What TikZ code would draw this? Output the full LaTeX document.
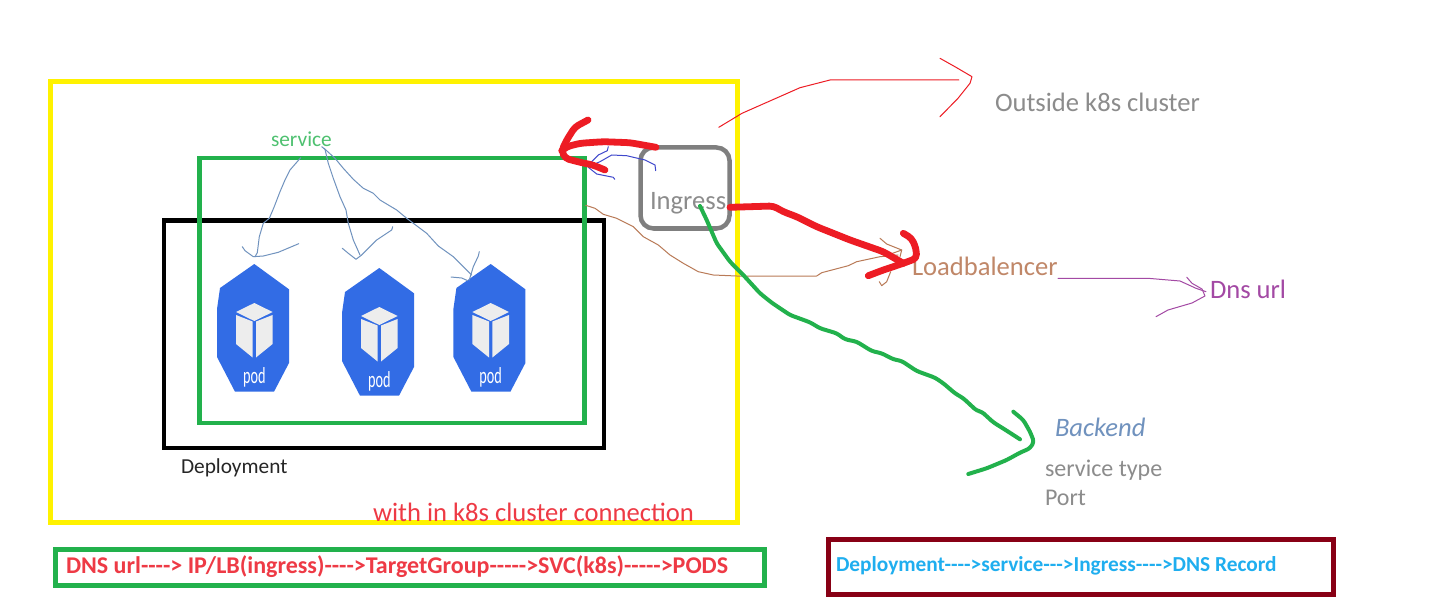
\documentclass[tikz,border=0pt]{standalone}
\usepackage{fontspec}
\usepackage{graphicx}
\setmainfont{Carlito}
\definecolor{myyellow}{HTML}{FFF200}
\definecolor{mygreen}{HTML}{22B14C}
\definecolor{mygray}{HTML}{7F7F7F}
\definecolor{txtgray}{HTML}{8C8C8C}
\definecolor{myred}{HTML}{ED1C24}
\definecolor{txtred}{HTML}{EE3A45}
\definecolor{mybrown}{HTML}{B97A57}
\definecolor{mypurple}{HTML}{A349A4}
\definecolor{mymaroon}{HTML}{880015}
\definecolor{mysky}{HTML}{1FAEEF}
\definecolor{svcblue}{HTML}{7092BE}
\definecolor{ingblue}{HTML}{3F48CC}
\definecolor{podblue}{HTML}{326CE5}
\definecolor{cubegray}{HTML}{EDEDED}
\tikzset{
  rectbox/.style={draw,anchor=north west,inner sep=0pt,outer sep=0pt},
  lab/.style={inner sep=0pt,outer sep=0pt,anchor=base west},
  fs big/.style={font=\fontsize{13.3}{16}\selectfont},
  fs mid/.style={font=\fontsize{12}{14}\selectfont},
  fs small/.style={font=\fontsize{10.67}{13}\selectfont},
  fs bold/.style={font=\fontsize{10.67}{13}\selectfont\bfseries},
  fs boldbig/.style={font=\fontsize{12}{14}\selectfont\bfseries},
  hand/.style={line cap=round,line join=round},
  thinline/.style={hand,line width=0.5pt},
  redthick/.style={hand,draw=myred,line width=3.4pt,rounded corners=2pt},
  greenthick/.style={hand,draw=mygreen,line width=2pt,rounded corners=1.5pt},
}
\newcommand{\podat}[4]{%
  \begin{scope}[shift={(#1,#2)}]
    \fill[podblue] (0,0) -- (34.7,25.3) -- (34.7,99) -- (19.7,127.7) -- (-19.3,127.7) -- (-37.3,93) -- (-37.3,45) -- (-34.3,24) -- cycle;
    \fill[cubegray] (0,39) -- (18.3,48) -- (0,57) -- (-18.3,48) -- cycle;
    \fill[cubegray] (-18.3,51) -- (-1.7,57.5) -- (-1.7,93.5) -- (-18.3,80) -- cycle;
    \fill[cubegray] (1.7,57.5) -- (18.3,51) -- (18.3,80) -- (1.7,93.5) -- cycle;
    \node[inner sep=0pt,text=white,font=\fontsize{11.5}{13}\selectfont] (#3) at (0,113) {\scalebox{0.62}[1]{#4}};
  \end{scope}}
\begin{document}
\begin{tikzpicture}[x=0.5pt,y=-0.5pt]
\useasboundingbox (0,0) rectangle (1447,610);
\fill[white] (0,0) rectangle (1447,610);

% frames
\node[rectbox,draw=myyellow,line width=2.5pt,minimum width=343.5pt,minimum height=220.25pt] (cluster) at (50.5,82) {};
\node[rectbox,draw=black,line width=2.25pt,minimum width=220pt,minimum height=113.75pt] (deploy) at (164,220.5) {};
\node[rectbox,draw=mygreen,line width=2.25pt,minimum width=192.5pt,minimum height=132.5pt] (svcbox) at (199.5,158) {};
\node[rectbox,draw=mygreen,line width=2.25pt,minimum width=354.5pt,minimum height=18pt] (flowa) at (55.5,549.5) {};
\node[rectbox,draw=mymaroon,line width=2.5pt,minimum width=252.5pt,minimum height=27.5pt] (flowb) at (828.5,539.5) {};
\node[rectbox,draw=mygray,line width=2.25pt,rounded corners=6.5pt,minimum width=44.5pt,minimum height=40.5pt] (ingbox) at (640.5,147.5) {};

% pods
\podat{254.3}{264}{podA}{pod}
\podat{379.3}{268}{podB}{pod}
\podat{490.7}{264}{podC}{pod}

% labels
\node[lab,fs small,text=mygreen!80!white] (service) at (271,147) {service};
\node[lab,fs big,text=txtgray] (ingress) at (650,210) {Ingress};
\node[lab,fs big,text=txtgray] (outside) at (995,112) {Outside k8s cluster};
\node[lab,fs big,text=mybrown!90!white] (lb) at (912,275) {Loadbalencer};
\node[lab,fs big,text=mypurple] (dns) at (1210,298) {Dns url};
\node[lab,fs big,text=svcblue,font=\fontsize{13.3}{16}\selectfont\itshape] (backend) at (1055,436) {Backend};
\node[lab,fs mid,text=txtgray] (stype) at (1045,476) {service type};
\node[lab,fs mid,text=txtgray] (port) at (1045,505) {Port};
\node[lab,fs small,text=black!85] (deplabel) at (181,473) {Deployment};
\node[lab,fs big,text=txtred] (within) at (373,521) {with in k8s cluster connection};
\node[lab,fs boldbig,text=txtred] (flowatext) at (66,573) {DNS url-{}-{}-{}-> IP/LB(ingress)-{}-{}-{}->TargetGroup-{}-{}-{}-{}->SVC(k8s)-{}-{}-{}-{}->PODS};
\node[lab,fs bold,text=mysky] (flowbtext) at (836,571) {Deployment-{}-{}-{}->service-{}-{}->Ingress-{}-{}-{}->DNS Record};

% named ends of the hand-drawn connectors
\coordinate (s1) at (300.7,157.7);
\coordinate (s2) at (321.7,146.7);
\coordinate (s3) at (324,148.3);
\coordinate (t1) at (255,256.7);
\coordinate (t2) at (360,255);
\coordinate (t3) at (471.7,275);
\coordinate (ingA) at (656,147.3);
\coordinate (clusterTip) at (561.7,150.7);
\coordinate (ingB) at (730,207.3);
\coordinate (lbTip) at (903.3,263.3);
\coordinate (ingC) at (700,206);
\coordinate (backTip) at (1020,439.3);
\coordinate (outA) at (718.8,127.3);
\coordinate (outB) at (958.8,80);
\coordinate (lbEnd) at (1058,278.3);
\coordinate (dnsTip) at (1206,291.7);
\coordinate (svcEdge) at (585.7,205.3);
\coordinate (lbIn) at (898,255);
\coordinate (ingD) at (655.7,170.7);
\coordinate (svcCorner) at (588.3,166.7);

% service -> pods
\draw[thinline,svcblue] (s1) -- (290,170) -- (285,180) -- (280,191.7) -- (274,207.3) -- (269.3,218.3) -- (263.3,223.3) -- (259.3,236.7) -- (257.3,252.7) -- (t1);
\draw[thinline,svcblue] (242.3,246.7) -- (245,250.7) -- (253.3,256.7) -- (263.3,256) -- (278.3,252.3) -- (298.7,243.7);
\draw[thinline,svcblue] (s2) -- (325,149.3) -- (328.3,163.3) -- (333.3,178.3) -- (340,196.7) -- (346,210) -- (348.3,223.3) -- (353.3,240) -- (t2);
\draw[thinline,svcblue] (342.3,248.3) -- (348.3,253.3) -- (356,259.3) -- (361.7,255) -- (376.7,240) -- (391.7,230) -- (392.7,226.7);
\draw[thinline,svcblue] (s3) -- (335,158.3) -- (343.3,168.3) -- (353.3,179.3) -- (363.3,188.3) -- (373.3,193.3) -- (380,200) -- (396.7,210) -- (406.7,218.3) -- (426.7,233.3) -- (438.3,246) -- (453.3,256.7) -- (t3);
\draw[thinline,svcblue] (479.3,251.7) -- (478.3,256) -- (473.3,266.7) -- (469.3,280);
\draw[thinline,svcblue] (451,277) -- (461.7,278) -- (467.7,280.7);

% ingress -> service (thin blue)
\draw[thinline,ingblue] (ingD) -- (655,165) -- (645,160) -- (626.7,155.7) -- (611.7,155) -- (600,161.7) -- (svcCorner);
\draw[thinline,ingblue] (608.3,146.7) -- (607.3,150.7) -- (598.3,155) -- (591.7,161.7) -- (588.3,167.3) -- (596.7,174) -- (613.3,177.3) -- (614.7,179.3);

% service -> loadbalancer (brown)
\draw[thinline,mybrown] (svcEdge) -- (595,208.3) -- (603.3,214.3) -- (616.7,218.3) -- (633.3,226.7) -- (643.3,236.7) -- (658.3,245) -- (670,255) -- (683.3,263.3) -- (698.3,271.7) -- (713.3,275) -- (736.7,276) -- (816.7,276) -- (821.7,272.7) -- (848.3,265.7) -- (856.7,261.7) -- (880,256.7) -- (lbIn);
\draw[thinline,mybrown] (880,238.3) -- (886.7,244) -- (901.7,250) -- (900,256.7);
\draw[thinline,mybrown] (901.7,250) -- (885,256);
\draw[thinline,mybrown] (890.7,271.7) -- (886.7,281.7) -- (881.7,285.7) -- (879.3,281.7);

% outside arrow
\draw[thinline,myred] (outA) -- (742,113.3) -- (800,87.7) -- (830,80) -- (outB);
\draw[thinline,myred] (940,58.3) -- (956,67.3) -- (972,76.7) -- (970,83.3) -- (958,98.3) -- (940,116.7);

% lb -> dns
\draw[thinline,mypurple] (lbEnd) -- (1148,278.3) -- (1180,281) -- (1196,288.3) -- (dnsTip);
\draw[thinline,mypurple] (1186.8,277.3) -- (1192,283.3) -- (1202,289) -- (1205,296) -- (1192,303) -- (1168,310) -- (1156,316.7);

% ingress -> backend
\draw[greenthick] (ingC) -- (706.7,220) -- (716.7,243.3) -- (730,261.7) -- (743.3,275) -- (760,293.3) -- (771.7,302.7) -- (790,315) -- (810,322.3) -- (820,328.3) -- (836.7,333.3) -- (845,339.3) -- (856.7,341.7) -- (871.7,351) -- (881.7,353.3) -- (893.3,359.3) -- (901.7,361) -- (916.7,371) -- (935,377.7) -- (943.3,383.3) -- (955,393.3) -- (963.3,398.3) -- (976.7,410.7) -- (981.7,411.7) -- (993.3,422.3) -- (1006.7,430.7) -- (backTip);
\draw[greenthick] (1013.3,411.7) -- (1023.3,420) -- (1030,431.7) -- (1034,441.7) -- (1030,448.3) -- (1020,452.7) -- (1006.7,460) -- (986.7,468.3) -- (968.3,474);

% thick red arrows
\draw[redthick] (ingA) -- (630,142.7) -- (603.3,141.7) -- (580,143.3) -- (566.7,146.7) -- (clusterTip);
\draw[redthick] (588,120) -- (575,127) -- (566.7,140) -- (561.7,150.7) -- (565,158.3) -- (580,162.3) -- (593,165) -- (605,170);
\draw[redthick] (ingB) -- (773.3,206) -- (783.3,211.7) -- (796.7,216.7) -- (816.7,226.7) -- (850,240) -- (883.3,251.7) -- (lbTip);
\draw[redthick] (868.3,275.7) -- (883.3,270) -- (903.3,263.3) -- (916.7,258.3) -- (916,248.3) -- (911.7,238.3) -- (903.3,233.3);
\end{tikzpicture}
\end{document}
